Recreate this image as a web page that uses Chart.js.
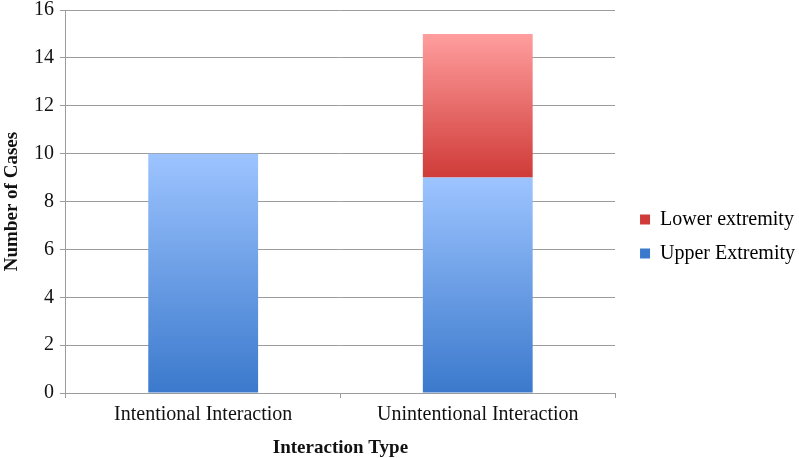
<!DOCTYPE html>
<html>
<head>
<meta charset="utf-8">
<script src="https://cdn.jsdelivr.net/npm/chart.js@4"></script>
<style>
  html, body { margin: 0; padding: 0; background: #fff; }
  #wrap { width: 799px; height: 458px; }
</style>
</head>
<body>
<div id="wrap"><canvas id="barChart" width="799" height="458"></canvas></div>
<script>
const categories = ['Intentional Interaction', 'Unintentional Interaction'];
const upperExtremity = [10, 9];
const lowerExtremity = [0, 6];
const yTicks = [0, 2, 4, 6, 8, 10, 12, 14, 16];

// gradient colours per series: [bottom, top]
const blueStops = ['#3b79cc', '#9dc4ff'];
const redStops = ['#cf3b38', '#ff9e9e'];

function segmentGradient(context, stops) {
    const chart = context.chart;
    if (!chart.chartArea || !chart.scales.y || context.dataIndex === undefined) return stops[0];
    const i = context.dataIndex;
    const start = context.datasetIndex === 0 ? 0 : upperExtremity[i];
    const end = start + (context.datasetIndex === 0 ? upperExtremity[i] : lowerExtremity[i]);
    const y0 = chart.scales.y.getPixelForValue(start);
    const y1 = chart.scales.y.getPixelForValue(end);
    if (!isFinite(y0) || !isFinite(y1) || y0 === y1) return stops[0];
    const g = chart.ctx.createLinearGradient(0, y0, 0, y1);
    g.addColorStop(0, stops[0]);
    g.addColorStop(1, stops[1]);
    return g;
}

const serif = "'Liberation Serif', 'DejaVu Serif', serif";
const gridGray = '#9c9c9c';

// nudge the legend a little away from the plot, like the original
const legendNudge = {
    id: 'legendNudge',
    afterLayout(chart) {
        const lg = chart.legend;
        if (!lg) return;
        lg.left += 11; lg.right += 11;
        lg.top += 6; lg.bottom += 6;
    }
};

new Chart(document.getElementById('barChart').getContext('2d'), {
    type: 'bar',
    data: {
        labels: categories,
        datasets: [
            { label: 'Upper Extremity', data: upperExtremity,
              backgroundColor: ctx => segmentGradient(ctx, blueStops) },
            { label: 'Lower extremity', data: lowerExtremity,
              backgroundColor: ctx => segmentGradient(ctx, redStops) }
        ]
    },
    options: {
        responsive: false,
        animation: false,
        categoryPercentage: 0.4,
        barPercentage: 1,
        layout: { padding: { top: 0, right: 5, left: 0, bottom: -3 } },
        scales: {
            x: {
                stacked: true,
                grid: { display: true, drawOnChartArea: false, offset: true, tickLength: 5, color: gridGray },
                border: { color: gridGray },
                ticks: { color: '#111', font: { family: serif, size: 20, lineHeight: 1.1 }, padding: 6 },
                title: { display: true, text: 'Interaction Type', color: '#111',
                         font: { family: serif, size: 19, weight: 'bold', lineHeight: 1.1 }, padding: { top: 6, bottom: 2 } }
            },
            y: {
                stacked: true,
                min: 0,
                max: 16,
                afterBuildTicks: axis => { axis.ticks = yTicks.map(v => ({ value: v })); },
                grid: { color: gridGray, tickLength: 6 },
                border: { color: gridGray },
                ticks: { color: '#111', font: { family: serif, size: 20, lineHeight: 0.4 }, padding: 6 },
                title: { display: true, text: 'Number of Cases', color: '#111',
                         font: { family: serif, size: 19, weight: 'bold', lineHeight: 1.1 }, padding: { top: 2, bottom: 5 } }
            }
        },
        plugins: {
            legend: {
                position: 'right',
                reverse: true,
                labels: {
                    boxWidth: 10, boxHeight: 10, padding: 14, color: '#111',
                    font: { family: serif, size: 20 },
                    generateLabels: chart => chart.data.datasets.map((ds, i) => ({
                        text: ds.label,
                        fillStyle: i === 0 ? blueStops[0] : redStops[0],
                        strokeStyle: 'transparent',
                        lineWidth: 0,
                        datasetIndex: i
                    }))
                }
            },
            tooltip: { enabled: false }
        }
    },
    plugins: [legendNudge]
});
</script>
</body>
</html>
